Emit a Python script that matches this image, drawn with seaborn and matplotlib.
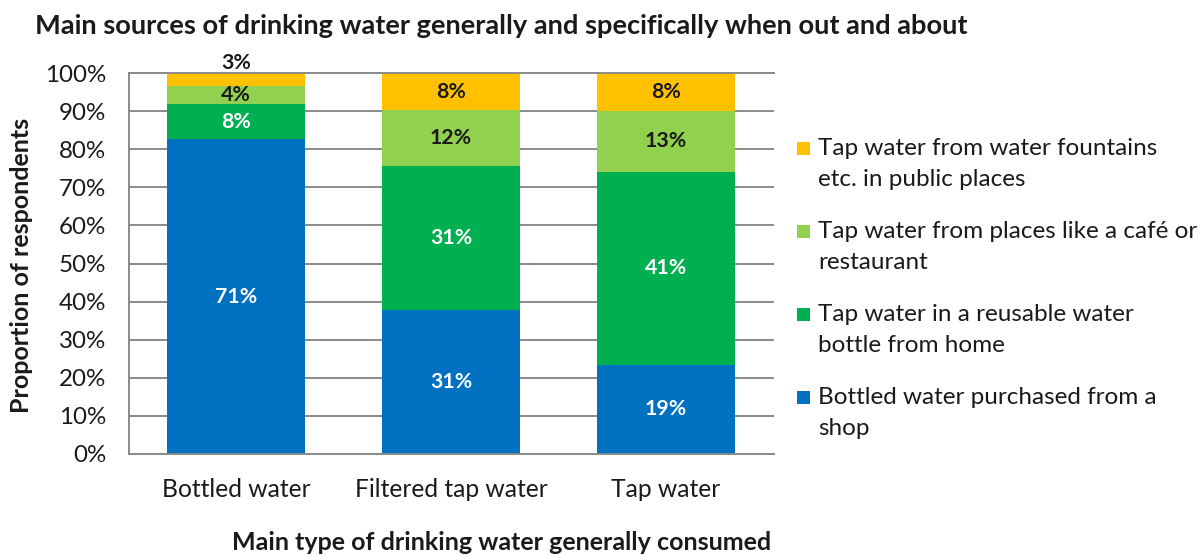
import numpy as np
import pandas as pd
import matplotlib
matplotlib.use("Agg")
import matplotlib.pyplot as plt
import seaborn as sns
from matplotlib.patches import Rectangle

# Main type of drinking water generally consumed
categories = ["Bottled water", "Filtered tap water", "Tap water"]

# Reported percentages for each main source (bottom to top of each stack)
bottled_shop = [71, 31, 19]
reusable_bottle = [8, 31, 41]
cafe_restaurant = [4, 12, 13]
public_fountain = [3, 8, 8]

source_labels = [
    "Bottled water purchased from a\nshop",
    "Tap water in a reusable water\nbottle from home",
    "Tap water from places like a café or\nrestaurant",
    "Tap water from water fountains\netc. in public places",
]
colors = ["#0070C0", "#00B050", "#92D050", "#FFC000"]
text_colors = ["white", "white", "#1a1a1a", "#1a1a1a"]
y_ticks = [0, 10, 20, 30, 40, 50, 60, 70, 80, 90, 100]

sns.set_theme(style="white")
plt.rcParams["font.family"] = ["Lato", "DejaVu Sans"]

values = np.array([bottled_shop, reusable_bottle, cafe_restaurant, public_fountain], dtype=float)
shares = values / values.sum(axis=0) * 100.0   # 100% stacked
tops = np.cumsum(shares, axis=0)
bottoms = tops - shares

W, H = 1204, 555
fig = plt.figure(figsize=(W / 100, H / 100), dpi=100)
ax = fig.add_axes([128.5 / W, 1 - 454 / H, 645 / W, 381 / H])

grid_col = "#8a8a8a"
ax.set_axisbelow(True)
ax.yaxis.grid(True, color=grid_col, linewidth=1.4)

# Stack by overdrawing cumulative totals, tallest first
for i in reversed(range(len(colors))):
    df = pd.DataFrame({"type": categories, "top": tops[i]})
    sns.barplot(data=df, x="type", y="top", order=categories, color=colors[i],
                saturation=1, width=0.64, errorbar=None, linewidth=0,
                edgecolor="none", ax=ax, zorder=2)

# Value labels
for i in range(len(colors)):
    for j in range(len(categories)):
        txt = f"{int(values[i, j])}%"
        if shares[i, j] < 4:
            ax.annotate(txt, (j, tops[i, j]), xytext=(0, 0), textcoords="offset points",
                        ha="center", va="bottom", fontsize=15.3, fontweight="bold",
                        color="#1a1a1a", zorder=5, annotation_clip=False)
        else:
            ax.text(j, bottoms[i, j] + shares[i, j] / 2, txt, ha="center", va="center",
                    fontsize=15.3, fontweight="bold", color=text_colors[i], zorder=5)

ax.set_xlim(-0.5, len(categories) - 0.5)
ax.set_ylim(0, 100)
ax.set_yticks(y_ticks)
ax.set_yticklabels([f"{v}%" for v in y_ticks])
ax.tick_params(axis="y", labelsize=17.4, pad=16, length=0, colors="#1a1a1a")
ax.tick_params(axis="x", labelsize=17.7, pad=17, length=0, colors="#1a1a1a")
for s in ["left", "bottom", "top"]:
    ax.spines[s].set_visible(True)
    ax.spines[s].set_color(grid_col)
    ax.spines[s].set_linewidth(1.4)
ax.spines["right"].set_visible(False)

ax.set_xlabel("")
ax.set_ylabel("")
fig.text(502 / W, 1 - 543 / H, "Main type of drinking water generally consumed",
         ha="center", va="center", fontsize=18, fontweight="bold", color="#1a1a1a")
fig.text(22 / W, 1 - 265 / H, "Proportion of respondents", rotation=90,
         ha="center", va="center", fontsize=18, fontweight="bold", color="#1a1a1a")
fig.text(35 / W, 1 - 26 / H,
         "Main sources of drinking water generally and specifically when out and about",
         ha="left", va="center", fontsize=19.6, fontweight="bold", color="#1a1a1a")

# Legend, top entry first
entry_y = [148, 231, 314, 397]
for k, i in enumerate(reversed(range(len(colors)))):
    y = entry_y[k]
    fig.patches.append(Rectangle((797 / W, 1 - (y + 7) / H), 13 / W, 13 / H,
                                 transform=fig.transFigure, facecolor=colors[i],
                                 edgecolor="none"))
    fig.text(818 / W, 1 - (y - 10) / H, source_labels[i], ha="left", va="top",
             fontsize=17.5, linespacing=1.6, color="#1a1a1a")

fig.savefig("out.png", dpi=100, facecolor="white")
